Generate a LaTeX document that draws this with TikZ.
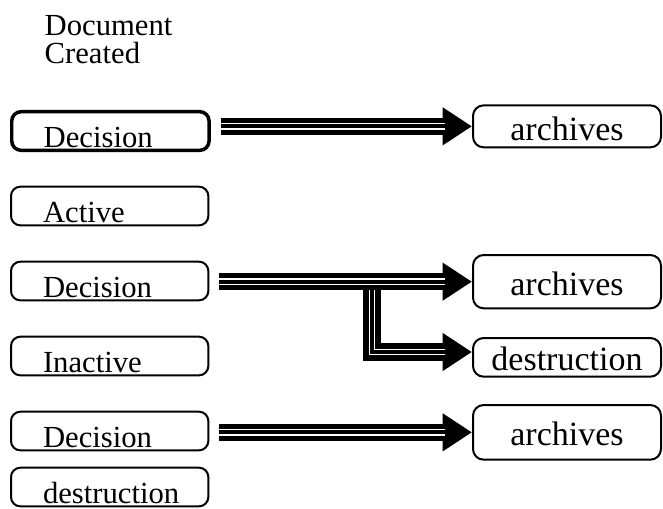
\documentclass[tikz,border=0pt]{standalone}
\usepackage{fontspec}
\setmainfont{Liberation Serif}
\usetikzlibrary{arrows.meta,positioning}

\begin{document}
\begin{tikzpicture}[x=.75pt,y=-.75pt,
    lbox/.style={draw,line width=1.5pt,rounded corners=7pt,anchor=base west,
        text width=100pt,align=left,inner xsep=24pt,inner ysep=2.5pt,
        text height=24pt,text depth=0pt,font=\fontsize{23}{26}\selectfont},
    rbox/.style={draw,line width=1.5pt,rounded corners=8pt,anchor=base west,
        minimum width=141pt,inner ysep=3pt,text height=23pt,text depth=2.5pt,
        font=\fontsize{25.5}{30}\selectfont},
    pipe/.style={line width=13pt,-{Triangle[length=22pt,width=27pt]},
        postaction={draw=white,line width=5pt,-,shorten >=20pt},
        postaction={draw=black,line width=3pt,-,shorten >=20pt}}]
    \useasboundingbox (0,0) rectangle (663,508);

    \node[anchor=base west,align=left,font=\fontsize{23}{21}\selectfont] (doc) at (40,63) {Document\\Created};

    % left column
    \node[lbox,line width=2.6pt] (dec1) at (10,147) {Decision};
    \node[lbox] (act) at (10,222) {Active};
    \node[lbox] (dec2) at (10,297) {Decision};
    \node[lbox] (inact) at (10,372) {Inactive};
    \node[lbox] (dec3) at (10,447) {Decision};
    \node[lbox] (destl) at (10,503) {destruction};

    % right column
    \node[rbox] (arc1) at (472,140) {archives};
    \node[rbox,text height=27pt,text depth=7pt] (arc2) at (472,295) {archives};
    \node[rbox,text height=21pt,text depth=2pt] (destr) at (472,370) {destruction};
    \node[rbox,text height=27pt,text depth=8pt] (arc3) at (472,445) {archives};

    % flows
    \path (dec1.east |- arc1.west) ++(10,0) coordinate (s1);
    \path (dec2.east |- arc2.west) ++(10,0) coordinate (s2);
    \path (dec3.east |- arc3.west) ++(10,0) coordinate (s3);
    \path (arc2.west) ++(-100,0) coordinate (br);

    \draw[pipe] (s1) -- (arc1.west);
    \draw[pipe] (br) |- ([yshift=4pt]destr.west);
    \draw[pipe] (s2) -- (arc2.west);
    \draw[pipe] (s3) -- (arc3.west);
\end{tikzpicture}
\end{document}
